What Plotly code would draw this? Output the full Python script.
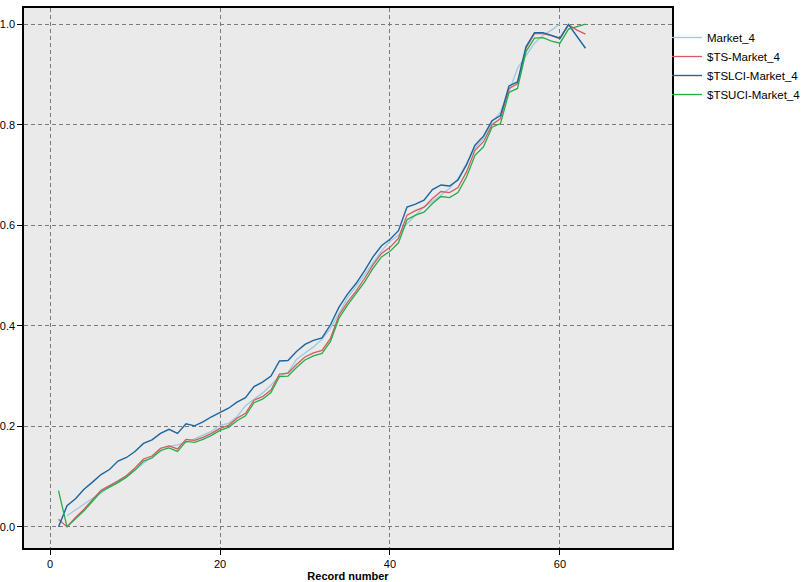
import plotly.graph_objects as go

record_ts = list(range(1, 64))
record_market = list(range(2, 61))

market_4 = [0.022, 0.034, 0.045, 0.057, 0.067, 0.081, 0.092, 0.101, 0.113, 0.127,
            0.140, 0.150, 0.160, 0.163, 0.168, 0.175, 0.182, 0.190, 0.202, 0.206,
            0.219, 0.241, 0.254, 0.266, 0.282, 0.300, 0.307, 0.333, 0.346, 0.358,
            0.373, 0.395, 0.425, 0.456, 0.478, 0.502, 0.527, 0.549, 0.568, 0.580,
            0.603, 0.620, 0.636, 0.647, 0.660, 0.673, 0.693, 0.723, 0.753, 0.773,
            0.805, 0.825, 0.865, 0.912, 0.938, 0.962, 0.978, 0.988, 1.000]

ts_market_4 = [0.015, 0.000, 0.019, 0.035, 0.054, 0.073, 0.082, 0.091, 0.102, 0.117,
               0.135, 0.141, 0.156, 0.161, 0.155, 0.174, 0.172, 0.178, 0.186, 0.196,
               0.202, 0.216, 0.226, 0.252, 0.259, 0.272, 0.304, 0.306, 0.323, 0.338,
               0.346, 0.351, 0.375, 0.421, 0.447, 0.469, 0.494, 0.521, 0.544, 0.556,
               0.574, 0.620, 0.629, 0.636, 0.653, 0.667, 0.665, 0.675, 0.706, 0.749,
               0.766, 0.800, 0.812, 0.872, 0.881, 0.952, 0.981, 0.981, 0.977, 0.971,
               0.999, 0.988, 0.980]

tslci_market_4 = [0.000, 0.042, 0.056, 0.075, 0.089, 0.104, 0.114, 0.131, 0.138, 0.150,
                  0.166, 0.173, 0.186, 0.194, 0.186, 0.205, 0.201, 0.209, 0.219, 0.228,
                  0.236, 0.248, 0.257, 0.279, 0.288, 0.300, 0.330, 0.331, 0.349, 0.363,
                  0.371, 0.376, 0.402, 0.437, 0.463, 0.484, 0.509, 0.537, 0.559, 0.572,
                  0.589, 0.636, 0.642, 0.650, 0.671, 0.680, 0.678, 0.690, 0.720, 0.759,
                  0.777, 0.808, 0.818, 0.877, 0.885, 0.955, 0.983, 0.983, 0.977, 0.972,
                  0.999, 0.975, 0.952]

tsuci_market_4 = [0.072, 0.000, 0.016, 0.032, 0.051, 0.070, 0.079, 0.088, 0.099, 0.113,
                  0.131, 0.137, 0.152, 0.157, 0.150, 0.170, 0.168, 0.174, 0.182, 0.192,
                  0.198, 0.211, 0.221, 0.247, 0.254, 0.267, 0.299, 0.300, 0.317, 0.332,
                  0.340, 0.345, 0.369, 0.415, 0.441, 0.463, 0.487, 0.514, 0.537, 0.548,
                  0.565, 0.611, 0.620, 0.626, 0.643, 0.657, 0.655, 0.665, 0.696, 0.739,
                  0.756, 0.795, 0.802, 0.864, 0.872, 0.945, 0.972, 0.973, 0.966, 0.962,
                  0.990, 0.995, 1.000]

x_ticks = [0, 20, 40, 60]
y_ticks = [0.0, 0.2, 0.4, 0.6, 0.8, 1.0]
y_tick_labels = ["0.0", "0.2", "0.4", "0.6", "0.8", "1.0"]

font_family = "Liberation Sans, Arial, sans-serif"

fig = go.Figure()
fig.add_trace(go.Scatter(x=record_market, y=market_4, mode="lines", name="Market_4",
                         line=dict(color="#9ccae2", width=1.3)))
fig.add_trace(go.Scatter(x=record_ts, y=ts_market_4, mode="lines", name="$TS-Market_4",
                         line=dict(color="#d65a5e", width=1.3)))
fig.add_trace(go.Scatter(x=record_ts, y=tslci_market_4, mode="lines", name="$TSLCI-Market_4",
                         line=dict(color="#1b65a0", width=1.4)))
fig.add_trace(go.Scatter(x=record_ts, y=tsuci_market_4, mode="lines", name="$TSUCI-Market_4",
                         line=dict(color="#25ad48", width=1.3)))

fig.update_layout(
    width=802, height=582,
    margin=dict(l=24, r=130, t=8, b=34, autoexpand=False),
    paper_bgcolor="white",
    plot_bgcolor="#eaeaea",
    font=dict(family=font_family, size=11, color="black"),
    showlegend=True,
    legend=dict(xref="container", yref="container", x=667 / 802, y=1 - 23 / 582,
                xanchor="left", yanchor="top",
                font=dict(size=11.5, family=font_family, color="black"),
                bgcolor="rgba(0,0,0,0)", itemwidth=30, tracegroupgap=0),
    xaxis=dict(range=[-3.06, 73.18], tickvals=x_ticks, ticks="outside", ticklen=5,
               tickcolor="black", showline=True, linecolor="black", linewidth=1.5,
               mirror=True, showgrid=True, gridcolor="#7a7a7a", griddash="4px,3px",
               gridwidth=1, zeroline=False, automargin=False,
               title=dict(text="<b>Record number</b>", standoff=0,
                          font=dict(size=11, family=font_family))),
    yaxis=dict(range=[-0.042, 1.032], tickvals=y_ticks, ticktext=y_tick_labels,
               ticks="outside", ticklen=5, tickcolor="black", showline=True,
               linecolor="black", linewidth=1.5, mirror=True, showgrid=True,
               gridcolor="#7a7a7a", griddash="4px,3px", gridwidth=1, zeroline=False,
               automargin=False),
)

fig.write_html("out.html", config={"displayModeBar": False},
               post_script="document.body.style.margin='0';")
